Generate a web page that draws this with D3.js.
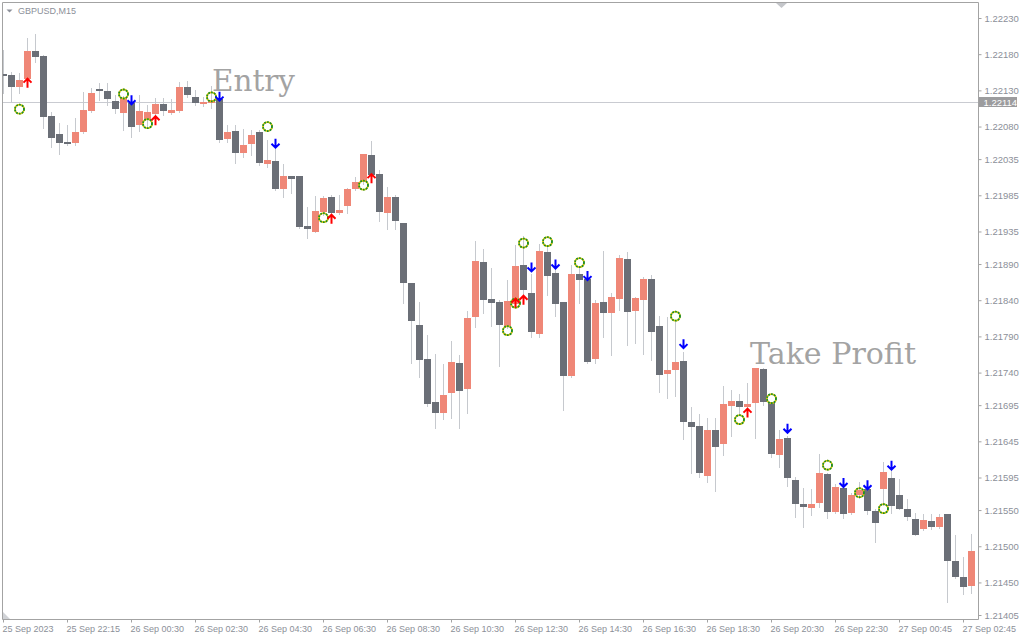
<!DOCTYPE html>
<html><head><meta charset="utf-8">
<script src="https://cdn.jsdelivr.net/npm/d3@7"></script>
<style>html,body{margin:0;padding:0;background:#fff;} svg{display:block}</style>
</head><body>
<svg id="c" width="1024" height="640"></svg>
<script>
// ---- DATA (GBPUSD M15) ----
const opens = [1.22153,1.22151,1.22135,1.22146,1.22184,1.22178,1.22095,1.22070,1.22059,1.22057,
1.22073,1.22102,1.22132,1.22129,1.22115,1.22099,1.22113,1.22082,1.22089,1.22097,
1.22111,1.22099,1.22102,1.22135,1.22121,1.22111,1.22113,1.22118,1.22063,1.22074,
1.22044,1.22056,1.22073,1.22028,1.22032,1.21994,1.22012,1.22012,1.21943,1.21934,
1.21962,1.21983,1.21961,1.21970,1.21994,1.22004,1.22041,1.22015,1.21961,1.21983,
1.21947,1.21864,1.21806,1.21759,1.21699,1.21684,1.21712,1.21753,1.21717,1.21817,
1.21893,1.21842,1.21838,1.21805,1.21835,1.21889,1.21850,1.21793,1.21907,1.21878,
1.21838,1.21735,1.21876,1.21869,1.21759,1.21838,1.21822,1.21842,1.21897,1.21825,
1.21840,1.21869,1.21805,1.21738,1.21744,1.21756,1.21672,1.21666,1.21597,1.21661,
1.21641,1.21694,1.21701,1.21693,1.21698,1.21745,1.21699,1.21626,1.21650,1.21592,
1.21559,1.21553,1.21560,1.21600,1.21548,1.21581,1.21546,1.21571,1.21579,1.21549,
1.21579,1.21594,1.21571,1.21552,1.21538,1.21524,1.21535,1.21527,1.21545,1.21480,
1.21458,1.21445];
const highs = [1.22186,1.22155,1.22154,1.22202,1.22208,1.22179,1.22100,1.22085,1.22082,1.22092,
1.22128,1.22133,1.22140,1.22140,1.22124,1.22122,1.22117,1.22124,1.22110,1.22120,
1.22120,1.22118,1.22142,1.22143,1.22131,1.22121,1.22136,1.22124,1.22082,1.22082,
1.22077,1.22075,1.22075,1.22062,1.22050,1.22028,1.22012,1.22012,1.21969,1.21984,
1.21984,1.21986,1.21986,1.21995,1.22010,1.22042,1.22060,1.22020,1.21997,1.21986,
1.21947,1.21864,1.21838,1.21792,1.21766,1.21752,1.21784,1.21764,1.21825,1.21922,
1.21911,1.21885,1.21840,1.21868,1.21916,1.21929,1.21876,1.21918,1.21916,1.21885,
1.21838,1.21889,1.21886,1.21871,1.21840,1.21908,1.21850,1.21903,1.21907,1.21845,
1.21872,1.21875,1.21818,1.21817,1.21810,1.21769,1.21692,1.21683,1.21677,1.21677,
1.21721,1.21716,1.21710,1.21726,1.21746,1.21746,1.21699,1.21661,1.21652,1.21596,
1.21581,1.21579,1.21628,1.21601,1.21586,1.21582,1.21574,1.21589,1.21581,1.21552,
1.21617,1.21618,1.21593,1.21565,1.21546,1.21545,1.21545,1.21545,1.21545,1.21516,
1.21485,1.21517];
const lows = [1.22126,1.22114,1.22126,1.22142,1.22169,1.22078,1.22052,1.22042,1.22055,1.22055,
1.22071,1.22100,1.22117,1.22110,1.22099,1.22075,1.22066,1.22074,1.22078,1.22093,
1.22096,1.22097,1.22100,1.22121,1.22110,1.22109,1.22106,1.22059,1.22059,1.22030,
1.22038,1.22041,1.22027,1.22024,1.21992,1.21983,1.21988,1.21940,1.21926,1.21934,
1.21958,1.21958,1.21959,1.21961,1.21992,1.22001,1.22012,1.21950,1.21939,1.21939,
1.21836,1.21753,1.21734,1.21694,1.21663,1.21676,1.21677,1.21663,1.21684,1.21803,
1.21822,1.21805,1.21749,1.21802,1.21834,1.21846,1.21789,1.21789,1.21847,1.21818,
1.21688,1.21734,1.21836,1.21753,1.21753,1.21789,1.21764,1.21827,1.21778,1.21781,
1.21766,1.21758,1.21713,1.21705,1.21708,1.21648,1.21601,1.21596,1.21589,1.21576,
1.21626,1.21652,1.21684,1.21691,1.21650,1.21695,1.21623,1.21610,1.21583,1.21541,
1.21527,1.21543,1.21554,1.21539,1.21546,1.21539,1.21545,1.21567,1.21545,1.21506,
1.21557,1.21546,1.21552,1.21536,1.21516,1.21523,1.21524,1.21525,1.21423,1.21456,
1.21434,1.21436];
const closes = [1.22151,1.22135,1.22144,1.22184,1.22176,1.22093,1.22064,1.22057,1.22058,1.22073,
1.22103,1.22126,1.22129,1.22118,1.22104,1.22120,1.22080,1.22102,1.22100,1.22111,
1.22102,1.22103,1.22135,1.22124,1.22113,1.22114,1.22116,1.22062,1.22073,1.22044,
1.22055,1.22068,1.22030,1.22034,1.21994,1.22012,1.22008,1.21941,1.21939,1.21963,
1.21981,1.21961,1.21964,1.21994,1.22004,1.22042,1.22013,1.21962,1.21983,1.21950,
1.21864,1.21811,1.21758,1.21697,1.21684,1.21709,1.21755,1.21715,1.21815,1.21894,
1.21840,1.21836,1.21806,1.21839,1.21887,1.21854,1.21796,1.21908,1.21874,1.21835,
1.21735,1.21876,1.21868,1.21755,1.21836,1.21822,1.21845,1.21898,1.21824,1.21843,
1.21869,1.21796,1.21737,1.21744,1.21755,1.21672,1.21665,1.21601,1.21661,1.21637,
1.21697,1.21701,1.21693,1.21697,1.21746,1.21699,1.21628,1.21648,1.21594,1.21559,
1.21554,1.21559,1.21601,1.21548,1.21582,1.21545,1.21571,1.21578,1.21549,1.21532,
1.21603,1.21556,1.21552,1.21541,1.21516,1.21536,1.21527,1.21541,1.21480,1.21458,
1.21444,1.21494];

// signal markers
const sunIdx   = [2,15,18,26,33,40,45,63,64,65,68,72,84,92,96,103,107,110];
const sunPrice = [1.22104,1.22125,1.22084,1.22121,1.22080,1.21954,1.21999,1.21798,1.21836,1.21919,1.21921,1.21892,1.21818,1.21675,1.21704,1.21612,1.21574,1.21552];
const upIdx    = [3,19,41,46,64,65,93];
const upPrice  = [1.22140,1.22088,1.21952,1.22008,1.21836,1.21840,1.21684];
const downIdx  = [16,27,34,66,69,73,85,98,105,108,111];
const downPrice= [1.22117,1.22122,1.22057,1.21886,1.21890,1.21874,1.21780,1.21663,1.21588,1.21585,1.21612];

// axes
const priceTicks = [1.22230,1.22180,1.22130,1.22080,1.22035,1.21985,1.21935,1.21890,1.21840,1.21790,1.21740,1.21695,1.21645,1.21595,1.21550,1.21500,1.21450,1.21405];
const timeIdx    = [0,8,16,24,32,40,48,56,64,72,80,88,96,104,112,120];
const timeLabels = ["25 Sep 2023","25 Sep 22:15","26 Sep 00:30","26 Sep 02:30","26 Sep 04:30","26 Sep 06:30","26 Sep 08:30","26 Sep 10:30","26 Sep 12:30","26 Sep 14:30","26 Sep 16:30","26 Sep 18:30","26 Sep 20:30","26 Sep 22:30","27 Sep 00:45","27 Sep 02:45"];
const levelPrice = 1.22114;
const symbolTitle = "GBPUSD,M15";

// ---- DRAWING ----
const svg = d3.select('#c');
const L = 2.5, T = 2.5, R = 978.5, B = 619.5;
const x = d3.scaleLinear().domain([0, 121]).range([3.5, 971.5]);
const y = d3.scaleLinear().domain([1.21405, 1.22230]).range([615, 18]);
const BULL = '#ef8777', BEAR = '#6b6f77', WICK = '#c6c9ce';
const AX = '#8c9099', FRAME = '#a3a3a3';

svg.append('rect').attr('width',1024).attr('height',640).attr('fill','#ffffff');

svg.append('defs').append('clipPath').attr('id','plot')
  .append('rect').attr('x',3).attr('y',3).attr('width',R-3).attr('height',B-3);

const plot = svg.append('g').attr('clip-path','url(#plot)');

// level line
const ly = Math.round(y(levelPrice)) + 0.5;
plot.append('line').attr('x1',L).attr('x2',R).attr('y1',ly).attr('y2',ly)
  .attr('stroke','#c9cbd1').attr('stroke-width',1);

// annotations
plot.append('text').attr('x',212).attr('y',91).text('Entry')
  .attr('font-family','DejaVu Serif').attr('font-size',30).attr('fill','#a3a3a3')
  .attr('textLength',83).attr('lengthAdjust','spacingAndGlyphs');
plot.append('text').attr('x',750).attr('y',364).text('Take Profit')
  .attr('font-family','DejaVu Serif').attr('font-size',30).attr('fill','#a3a3a3')
  .attr('textLength',166).attr('lengthAdjust','spacingAndGlyphs');

const candles = opens.map((o,i)=>({i, o, h:highs[i], l:lows[i], c:closes[i]}));

// wicks
plot.append('g').selectAll('line').data(candles).join('line')
  .attr('x1', d=>x(d.i)).attr('x2', d=>x(d.i))
  .attr('y1', d=>Math.round(y(d.h))).attr('y2', d=>Math.round(y(d.l))+1)
  .attr('stroke', WICK).attr('stroke-width',1);

// bodies
plot.append('g').selectAll('rect').data(candles).join('rect')
  .attr('x', d=>x(d.i)-3.5)
  .attr('width', 7)
  .attr('y', d=>Math.round(y(Math.max(d.o,d.c))))
  .attr('height', d=>Math.max(2, Math.round(y(Math.min(d.o,d.c))) - Math.round(y(Math.max(d.o,d.c)))))
  .attr('fill', d=> d.c > d.o ? BULL : BEAR);

// sun markers
const suns = plot.append('g').selectAll('g').data(sunIdx.map((k,j)=>({k,p:sunPrice[j]}))).join('g')
  .attr('transform', d=>`translate(${x(d.k)},${y(d.p)})`);
suns.append('circle').attr('r',4.5).attr('fill','none').attr('stroke','#d6c300').attr('stroke-width',1.8);
suns.append('circle').attr('r',4.5).attr('fill','none').attr('stroke','#178c2c').attr('stroke-width',1.8)
  .attr('stroke-dasharray','1.6 1.3');

// up arrows
plot.append('g').selectAll('path').data(upIdx.map((k,j)=>({k,p:upPrice[j]}))).join('path')
  .attr('transform', d=>`translate(${x(d.k)},${y(d.p)})`)
  .attr('d','M0,4.5V-4.5M-4,-0.5L0,-4.5L4,-0.5')
  .attr('fill','none').attr('stroke','#ff0000').attr('stroke-width',2);

// down arrows
plot.append('g').selectAll('path').data(downIdx.map((k,j)=>({k,p:downPrice[j]}))).join('path')
  .attr('transform', d=>`translate(${x(d.k)},${y(d.p)})`)
  .attr('d','M0,-4.5V4.5M-4,0.5L0,4.5L4,0.5')
  .attr('fill','none').attr('stroke','#0000ff').attr('stroke-width',2);

// frame
svg.append('path').attr('d',`M${L},${B}V${T}H${R}V${B}H${L}`)
  .attr('fill','none').attr('stroke',FRAME).attr('stroke-width',1);

// price axis
const ya = svg.append('g').attr('transform',`translate(${R},0)`)
  .call(d3.axisRight(y).tickValues(priceTicks).tickSize(3).tickFormat(d3.format('.5f')));
ya.select('.domain').remove();
ya.selectAll('line').attr('stroke',FRAME);
ya.selectAll('text').attr('fill',AX).attr('font-family','Liberation Sans, Arial, sans-serif').attr('font-size','9.5px');

// level price box
svg.append('rect').attr('x',979).attr('y',ly-5.5).attr('width',38).attr('height',10).attr('fill','#9c9c9e');
svg.append('text').attr('x',983.5).attr('y',ly+3.5).text(d3.format('.5f')(levelPrice))
  .attr('fill','#ffffff').attr('font-family','Liberation Sans, Arial, sans-serif').attr('font-size','9.5px');

// time axis
const xa = svg.append('g').attr('transform',`translate(0,${B})`)
  .call(d3.axisBottom(x).tickValues(timeIdx).tickSize(3).offset(0).tickFormat((d,i)=>timeLabels[i]));
xa.select('.domain').remove();
xa.selectAll('line').attr('stroke',FRAME);
xa.selectAll('text').attr('fill',AX).attr('font-family','Liberation Sans, Arial, sans-serif')
  .attr('font-size','9px').attr('text-anchor','start').attr('x',-1);

// title
svg.append('path').attr('d','M6.5,9.5L12.5,9.5L9.5,12.5Z').attr('fill','#8c9099');
svg.append('text').attr('x',18).attr('y',14).text(symbolTitle)
  .attr('fill',AX).attr('font-family','Liberation Sans, Arial, sans-serif').attr('font-size','9px');

// chart shift marker and corner marker
svg.append('path').attr('d','M776,3L787,3L781.5,8Z').attr('fill','#c4c6ca');
svg.append('path').attr('d','M3,612L3,619L10,619Z').attr('fill','#d0d2d6');
</script>
</body></html>
